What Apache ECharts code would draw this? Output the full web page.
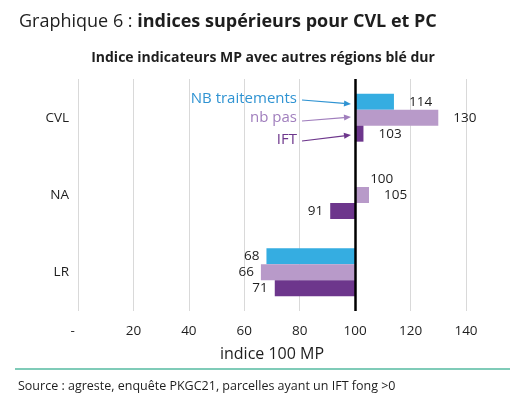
<!DOCTYPE html>
<html>
<head>
<meta charset="utf-8">
<script src="https://cdn.jsdelivr.net/npm/echarts@6/dist/echarts.min.js"></script>
<style>
  html, body { margin: 0; padding: 0; background: #fff; }
  #chart { width: 526px; height: 398px; }
</style>
</head>
<body>
<div id="chart"></div>
<script>
// categories (top to bottom)
const regions = ['CVL', 'NA', 'LR']
// index values, base 100 = MP
const nbTraitements = [114, 100, 68]
const nbPas = [130, 105, 66]
const ift = [103, 91, 71]
const xTicks = [0, 20, 40, 60, 80, 100, 120, 140]

const BASE = 100
const FONT = "'Open Sans', 'Noto Sans', sans-serif"
const colors = {
  blue: '#35ADE1',
  light: '#B89AC9',
  dark: '#6D368C'
}

// bars grow from the 100 line : transparent base + visible delta
function buildSeries(name, values, color, stackId) {
  const base = values.map(v => Math.min(v, BASE))
  const delta = values.map(v => ({
    value: Math.abs(v - BASE),
    label: {
      position: v >= BASE ? 'right' : 'left',
      distance: v >= BASE ? 15 : 7
    }
  }))
  return [
    {
      name: name + '_base',
      type: 'bar',
      stack: stackId,
      silent: true,
      barWidth: 16,
      barGap: '0%',
      itemStyle: { color: 'transparent' },
      data: base
    },
    {
      name: name,
      type: 'bar',
      stack: stackId,
      barWidth: 16,
      barGap: '0%',
      itemStyle: { color: color },
      label: {
        show: true,
        color: '#1e1e1e',
        fontSize: 13.5,
        fontFamily: FONT,
        formatter: p => values[p.dataIndex]
      },
      data: delta
    }
  ]
}

const chart = echarts.init(document.getElementById('chart'))

const series = [].concat(
  buildSeries('NB traitements', nbTraitements, colors.blue, 's1'),
  buildSeries('nb pas', nbPas, colors.light, 's2'),
  buildSeries('IFT', ift, colors.dark, 's3')
)
// vertical axis crossing at 100
series[series.length - 1].markLine = {
  silent: true,
  symbol: 'none',
  label: { show: false },
  lineStyle: { color: '#000', width: 2.5, type: 'solid' },
  data: [{ xAxis: BASE }]
}

function arrow(x1, y1, x2, y2, color) {
  const a = Math.atan2(y2 - y1, x2 - x1)
  const L = 7, W = 3
  const bx = x2 - L * Math.cos(a), by = y2 - L * Math.sin(a)
  return [
    {
      type: 'line',
      shape: { x1: x1, y1: y1, x2: bx, y2: by },
      style: { stroke: color, lineWidth: 1.2 }
    },
    {
      type: 'polygon',
      shape: {
        points: [
          [x2, y2],
          [bx + W * Math.sin(a), by - W * Math.cos(a)],
          [bx - W * Math.sin(a), by + W * Math.cos(a)]
        ]
      },
      style: { fill: color }
    }
  ]
}

function note(text, x, y, color) {
  return {
    type: 'text',
    x: x,
    y: y,
    style: {
      text: text,
      fill: color,
      font: '15px ' + FONT,
      align: 'right',
      verticalAlign: 'middle'
    }
  }
}

chart.setOption({
  animation: false,
  title: [
    {
      left: 14,
      top: 8,
      text: '{a|Graphique 6 : }{b|indices supérieurs pour CVL et PC}',
      textStyle: {
        rich: {
          a: { fontSize: 18, fontFamily: FONT, fontWeight: 'normal', color: '#1e1e1e' },
          b: { fontSize: 18, fontFamily: FONT, fontWeight: 'bold', color: '#1e1e1e' }
        }
      }
    },
    {
      left: 'center',
      top: 46,
      text: 'Indice indicateurs MP avec autres régions blé dur',
      textStyle: { fontSize: 14, fontFamily: FONT, fontWeight: 'bold', color: '#1e1e1e' }
    },
    {
      left: 13,
      top: 375,
      text: 'Source : agreste, enquête PKGC21, parcelles ayant un IFT fong >0',
      textStyle: { fontSize: 12.5, fontFamily: FONT, fontWeight: 'normal', color: '#1e1e1e' }
    }
  ],
  grid: {
    left: 78,
    right: 60,
    top: 79,
    bottom: 87,
    containLabel: false
  },
  xAxis: {
    type: 'value',
    min: xTicks[0],
    max: xTicks[xTicks.length - 1],
    interval: 20,
    name: 'indice 100 MP',
    nameLocation: 'middle',
    nameGap: 35,
    nameTextStyle: { fontSize: 16, fontFamily: FONT, color: '#1e1e1e' },
    axisLine: { show: false },
    axisTick: { show: false },
    splitLine: { lineStyle: { color: '#D9D9D9', width: 1 } },
    axisLabel: {
      fontSize: 13.5,
      fontFamily: FONT,
      color: '#1e1e1e',
      margin: 13,
      formatter: v => (v === 0 ? '-   ' : v)
    }
  },
  yAxis: {
    type: 'category',
    inverse: true,
    data: regions,
    axisLine: { show: false },
    axisTick: { show: false },
    axisLabel: { fontSize: 13.5, fontFamily: FONT, color: '#1e1e1e', margin: 9 }
  },
  series: series,
  graphic: [
    note('NB traitements', 297, 99, '#2F93D2'),
    note('nb pas', 297, 118, '#A07EBD'),
    note('IFT', 297, 140, '#6D368C'),
    ...arrow(302, 100, 351, 104, '#2F93D2'),
    ...arrow(302, 121, 351, 117, '#A07EBD'),
    ...arrow(302, 141, 351, 135, '#6D368C'),
    {
      type: 'line',
      shape: { x1: 15, y1: 369, x2: 510, y2: 369 },
      style: { stroke: '#7FCBB8', lineWidth: 2 }
    }
  ]
})
</script>
</body>
</html>
